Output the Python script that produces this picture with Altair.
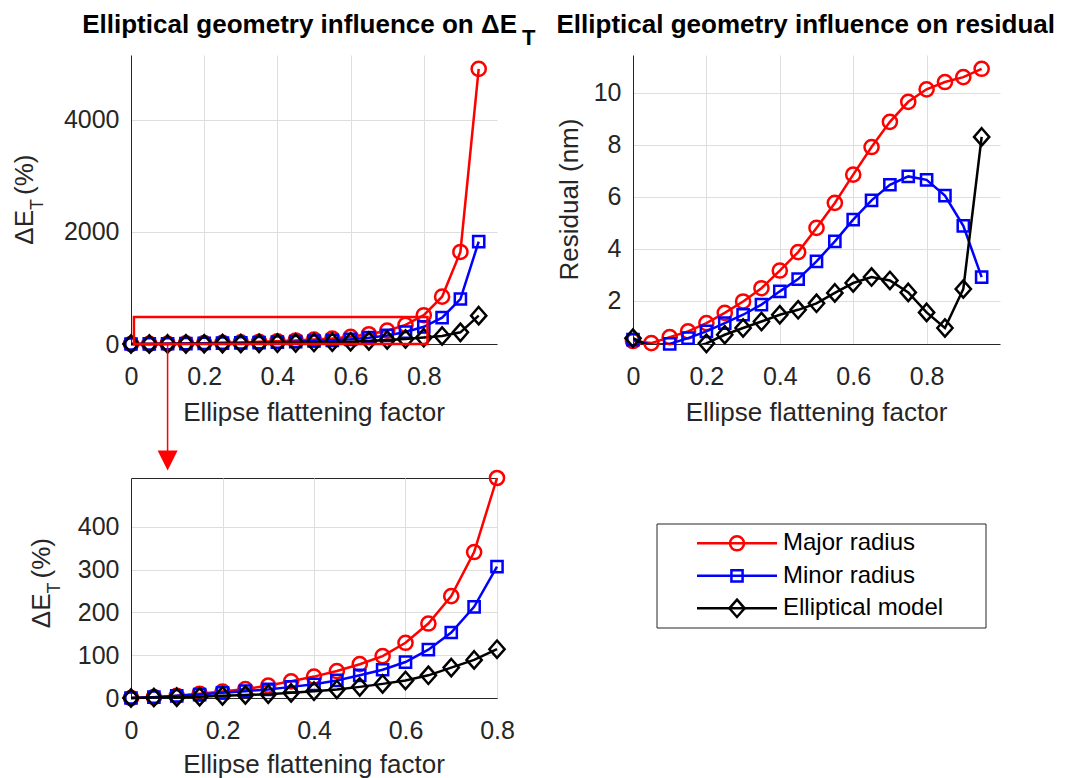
import altair as alt
import pandas as pd

# ---------------- data ----------------
FLAT = [0.00, 0.05, 0.10, 0.15, 0.20, 0.25, 0.30, 0.35, 0.40, 0.45,
        0.50, 0.55, 0.60, 0.65, 0.70, 0.75, 0.80, 0.85, 0.90, 0.95]
SERIES = ["Major radius", "Minor radius", "Elliptical model"]

DE_MAJOR = [0, 2, 5, 10, 15, 21, 29, 39, 50, 63, 79, 98, 129, 174, 238, 341, 514, 845, 1643, 4911]
DE_MINOR = [0, 2, 5, 8, 12, 16, 20, 26, 32, 41, 53, 66, 84, 113, 153, 213, 307, 470, 803, 1827]
DE_ELLIPTICAL = [0, 1, 2, 3, 5, 7, 9, 12, 16, 20, 26, 33, 41, 53, 71, 89, 114, 143, 208, 506]

RES_MAJOR = [0.45, 0.37, 0.60, 0.82, 1.14, 1.53, 1.97, 2.48, 3.16, 3.87,
             4.80, 5.76, 6.85, 7.91, 8.88, 9.65, 10.13, 10.41, 10.60, 10.92]
RES_MINOR = [0.50, 0.30, 0.34, 0.56, 0.82, 1.14, 1.46, 1.85, 2.36, 2.83,
             3.51, 4.28, 5.12, 5.86, 6.46, 6.78, 6.65, 6.04, 4.88, 2.91]
RES_ELLIPTICAL = [0.56, 0.20, 0.10, 0.15, 0.36, 0.69, 0.95, 1.20, 1.46, 1.65,
                  1.90, 2.30, 2.68, 2.91, 2.78, 2.32, 1.55, 0.95, 2.45, 8.30]

X_TICKS = [0, 0.2, 0.4, 0.6, 0.8]
DE_TICKS = [0, 2000, 4000]
DE_ZOOM_TICKS = [0, 100, 200, 300, 400]
RES_TICKS = [2, 4, 6, 8, 10]

X_DOMAIN = [0, 1]
DE_DOMAIN = [0, 5160]
RES_DOMAIN = [0.335, 11.45]
ZOOM_X_DOMAIN = [0, 0.8]
ZOOM_Y_DOMAIN = [0, 514]

ZOOM_BOX_X = [0.008, 0.81]
ZOOM_BOX_Y = [0, 482]
ARROW_X = [0.1]

TITLE_DE = "Elliptical geometry influence on ΔE"
TITLE_SUB = "T"
TITLE_RES = "Elliptical geometry influence on residual"
X_LABEL = "Ellipse flattening factor"
DE_LABEL = "ΔE"
DE_UNIT = "(%)"
RES_LABEL = "Residual (nm)"

# ---------------- styling ----------------
FONT = "Liberation Sans"
AX = "#262626"
GRID = "#dedede"
DIAMOND = "M0,-1L0.88,0L0,1L-0.88,0Z"
ARROW_HEAD = "M-1,-1L1,-1L0,1Z"
STYLE = {
    "Major radius": dict(color="#ff0000", shape="circle", size=200),
    "Minor radius": dict(color="#0000ff", shape="square", size=125),
    "Elliptical model": dict(color="#000000", shape=DIAMOND, size=300),
}


def long_frame(cols):
    rows = []
    for s, vals in zip(SERIES, cols):
        for f, v in zip(FLAT, vals):
            rows.append({"f": f, "series": s, "v": v})
    return pd.DataFrame(rows)


de_df = long_frame([DE_MAJOR, DE_MINOR, DE_ELLIPTICAL])
res_df = long_frame([RES_MAJOR, RES_MINOR, RES_ELLIPTICAL])


def x_axis():
    return alt.Axis(values=X_TICKS, format="~g", title=None, grid=True, gridColor=GRID,
                    gridWidth=1, domainColor=AX, domainWidth=1, labelColor=AX,
                    labelFont=FONT, labelFontSize=25, ticks=False, tickSize=0,
                    labelPadding=20, labelFlush=False, labelOverlap=False)


def y_axis(vals):
    return alt.Axis(values=vals, format="d", title=None, grid=True, gridColor=GRID,
                    gridWidth=1, domainColor=AX, domainWidth=1, labelColor=AX,
                    labelFont=FONT, labelFontSize=25, ticks=False, tickSize=0,
                    labelPadding=12, labelFlush=False, labelOverlap=False)


def enc(xdom, ydom, yticks):
    def X(field):
        return alt.X(field, type="quantitative",
                     scale=alt.Scale(domain=xdom, nice=False, zero=False), axis=x_axis())

    def Y(field):
        return alt.Y(field, type="quantitative",
                     scale=alt.Scale(domain=ydom, nice=False, zero=False), axis=y_axis(yticks))
    return X, Y


def series_layers(df, X, Y, clip_lines=False, ymin=None, fmax=None):
    layers = []
    for s in SERIES:
        st = STYLE[s]
        base = alt.Chart(df).transform_filter(alt.datum.series == s)
        if fmax is not None:
            base = base.transform_filter(alt.datum.f <= fmax + 1e-9)
        layers.append(base.mark_line(color=st["color"], strokeWidth=2.5, clip=clip_lines)
                      .encode(x=X("f"), y=Y("v")))
        pb = base if ymin is None else base.transform_filter(alt.datum.v >= ymin)
        layers.append(pb.mark_point(shape=st["shape"], size=st["size"], color=st["color"],
                                    filled=False, strokeWidth=2.5, opacity=1)
                      .encode(x=X("f"), y=Y("v")))
    return layers


def text(txt, x, y, size, angle=0, align="center", baseline="alphabetic",
         bold=False, color=AX):
    return alt.Chart(pd.DataFrame({"t": [txt]})).mark_text(
        font=FONT, fontSize=size, fontWeight="bold" if bold else "normal",
        angle=angle, align=align, baseline=baseline, color=color
    ).encode(text="t:N", x=alt.value(x), y=alt.value(y))


# ---------------- top-left: ΔE ----------------
W1, H1 = 366, 289
X1, Y1 = enc(X_DOMAIN, DE_DOMAIN, DE_TICKS)
tl_layers = series_layers(de_df, X1, Y1)
box_df = pd.DataFrame({"x0": [ZOOM_BOX_X[0]], "x1": [ZOOM_BOX_X[1]],
                       "y0": [ZOOM_BOX_Y[0]], "y1": [ZOOM_BOX_Y[1]]})
tl_layers.append(alt.Chart(box_df).mark_rect(filled=False, stroke="#ff0000", strokeWidth=2.5)
                 .encode(x=X1("x0"), x2="x1", y=Y1("y0"), y2="y1"))
arrow_df = pd.DataFrame({"ax": ARROW_X})
tl_layers.append(alt.Chart(arrow_df).mark_rule(color="#ff0000", strokeWidth=1.5)
                 .encode(x=X1("ax"), y=alt.value(H1), y2=alt.value(397)))
tl_layers.append(alt.Chart(arrow_df).mark_point(shape=ARROW_HEAD, size=400, filled=True,
                                                color="#ff0000", opacity=1)
                 .encode(x=X1("ax"), y=alt.value(405.5)))
tl_layers += [
    text(TITLE_DE, 386, -22, 26, align="right", bold=True, color="#000000"),
    text(TITLE_SUB, 391, -10, 22, align="left", bold=True, color="#000000"),
    text(DE_LABEL, -98, 155, 26, angle=270, align="right"),
    text(TITLE_SUB, -88, 155, 18, angle=270, align="left"),
    text(DE_UNIT, -98, 140, 26, angle=270, align="left"),
    text(X_LABEL, W1 / 2, H1 + 77, 26),
]
tl = alt.layer(*tl_layers).properties(width=W1, height=H1)

# ---------------- top-right: residual ----------------
W2, H2 = 367, 289
X2, Y2 = enc(X_DOMAIN, RES_DOMAIN, RES_TICKS)
tr_layers = series_layers(res_df, X2, Y2, clip_lines=True, ymin=RES_DOMAIN[0] - 0.01)
tr_layers += [
    text(TITLE_RES, 422, -22, 26, align="right", bold=True, color="#000000"),
    text(RES_LABEL, -55, H2 / 2, 26, angle=270, align="center"),
    text(X_LABEL, W2 / 2, H2 + 77, 26),
]
tr = alt.layer(*tr_layers).properties(width=W2, height=H2)

# ---------------- bottom-left: zoom on ΔE ----------------
W3, H3 = 366, 220
X3, Y3 = enc(ZOOM_X_DOMAIN, ZOOM_Y_DOMAIN, DE_ZOOM_TICKS)
bl_layers = series_layers(de_df, X3, Y3, fmax=ZOOM_X_DOMAIN[1])
bl_layers += [
    text(DE_LABEL, -81, 115.5, 26, angle=270, align="right"),
    text(TITLE_SUB, -71, 115.5, 18, angle=270, align="left"),
    text(DE_UNIT, -81, 100.5, 26, angle=270, align="left"),
    text(X_LABEL, W3 / 2, H3 + 75, 26),
]
bl = alt.layer(*bl_layers).properties(
    width=W3, height=H3, view=alt.ViewBackground(stroke=AX, strokeWidth=1))

# ---------------- legend panel ----------------
W4, H4 = 367, 220
leg_df = pd.DataFrame({"series": SERIES})
LEG_Y = alt.Y("series:N", scale=alt.Scale(type="point", domain=SERIES, range=[65.3, 130.3],
                                          padding=0), axis=None)
leg_color = alt.Color("series:N", scale=alt.Scale(domain=SERIES,
                      range=[STYLE[s]["color"] for s in SERIES]), legend=None)
leg_layers = [
    alt.Chart(pd.DataFrame({"b": [0]})).mark_rect(fill="#ffffff", stroke=AX, strokeWidth=1)
    .encode(x=alt.value(24), x2=alt.value(353), y=alt.value(46), y2=alt.value(150)),
    alt.Chart(leg_df).mark_rule(strokeWidth=2.5)
    .encode(x=alt.value(64), x2=alt.value(144), y=LEG_Y, color=leg_color),
]
for s in SERIES:
    st = STYLE[s]
    leg_layers.append(
        alt.Chart(leg_df).transform_filter(alt.datum.series == s)
        .mark_point(shape=st["shape"], size=st["size"], color=st["color"], filled=False,
                    strokeWidth=2.5, opacity=1)
        .encode(x=alt.value(104), y=LEG_Y))
leg_layers.append(
    alt.Chart(leg_df).mark_text(font=FONT, fontSize=24, align="left", baseline="middle",
                                color="#000000")
    .encode(x=alt.value(150), y=LEG_Y, text="series:N"))
leg = alt.layer(*leg_layers).properties(width=W4, height=H4)

chart = alt.concat(
    tl, tr, bl, leg, columns=2, spacing={"row": 134, "column": 136}, bounds="flush"
).properties(
    autosize=alt.AutoSizeParams(type="none"),
    padding={"left": 123, "top": 47, "right": 934, "bottom": 723},
).configure_view(stroke="transparent")

chart.save("out.html", embed_options={"renderer": "svg", "actions": False})
